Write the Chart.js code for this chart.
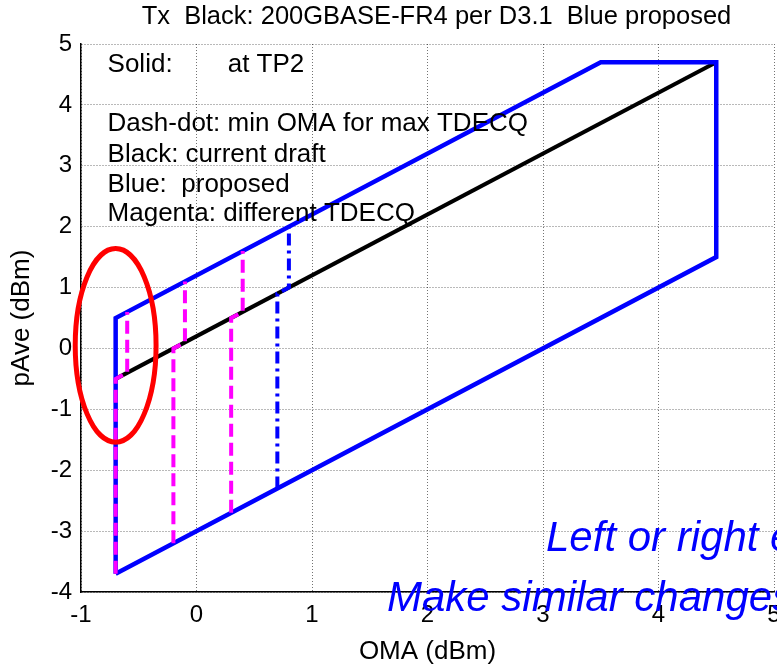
<!DOCTYPE html>
<html>
<head>
<meta charset="utf-8">
<script src="https://cdn.jsdelivr.net/npm/chart.js@4.4.0/dist/chart.umd.min.js"></script>
<style>
  html, body { margin: 0; padding: 0; background: #fff; }
</style>
</head>
<body>
<canvas id="c" width="777" height="667"></canvas>
<script>
// Blue: proposed limits (solid outline)
const blueX = [-0.7, -0.7, 3.5, 4.5, 4.5, -0.7];
const blueY = [-3.7, 0.5, 4.7, 4.7, 1.5, -3.7];
// Black: current draft
const blackX = [-0.7, 4.5];
const blackY = [-0.5, 4.7];
// Magenta: different TDECQ (dashed)
const mag1X = [-0.7, -0.7, -0.6, -0.6];
const mag1Y = [-3.7, -0.5, -0.4, 0.6];
const mag2X = [-0.2, -0.2, -0.1, -0.1];
const mag2Y = [-3.2, 0.0, 0.1, 1.1];
const mag3X = [0.3, 0.3, 0.4, 0.4];
const mag3Y = [-2.7, 0.5, 0.6, 1.6];
// Dash-dot: min OMA for max TDECQ
const ddX = [0.7, 0.7, 0.8, 0.8];
const ddY = [-2.3, 0.9, 1.0, 2.0];
// red ellipse: centre x, centre y, radius x, radius y
const ellipse = [-0.70, 0.05, 0.35, 1.59];

const titleText = 'Tx  Black: 200GBASE-FR4 per D3.1  Blue proposed';
const notes = [
  ['Solid:', -0.77, 4.66],
  ['at TP2', 0.27, 4.66],
  ['Dash-dot: min OMA for max TDECQ', -0.77, 3.69],
  ['Black: current draft', -0.77, 3.18],
  ['Blue:  proposed', -0.77, 2.69],
  ['Magenta: different TDECQ', -0.77, 2.21]
];

const FONT = "'Liberation Sans', Arial, sans-serif";

function pts(xs, ys) {
  return xs.map((x, i) => ({ x: x, y: ys[i] }));
}

function line(data, color, width, dash, order) {
  return {
    data: data, borderColor: color, borderWidth: width, borderDash: dash,
    showLine: true, pointRadius: 0, fill: false, tension: 0,
    borderJoinStyle: 'miter', order: order
  };
}

const overlay = {
  id: 'overlay',
  afterDatasetsDraw(chart) {
    const ctx = chart.ctx;
    const xs = chart.scales.x, ys = chart.scales.y;
    // red ellipse
    const cx = xs.getPixelForValue(ellipse[0]);
    const cy = ys.getPixelForValue(ellipse[1]);
    const rx = xs.getPixelForValue(ellipse[0] + ellipse[2]) - cx;
    const ry = cy - ys.getPixelForValue(ellipse[1] + ellipse[3]);
    ctx.save();
    ctx.strokeStyle = '#ff0000';
    ctx.lineWidth = 5;
    ctx.beginPath();
    ctx.ellipse(cx, cy, rx, ry, 0, 0, Math.PI * 2);
    ctx.stroke();
    // notes
    ctx.fillStyle = '#000';
    ctx.font = '26px ' + FONT;
    ctx.textBaseline = 'middle';
    ctx.textAlign = 'left';
    notes.forEach(n => {
      ctx.fillText(n[0], xs.getPixelForValue(n[1]), ys.getPixelForValue(n[2]));
    });
    ctx.restore();
  },
  afterDraw(chart) {
    const ctx = chart.ctx;
    const area = chart.chartArea;
    ctx.save();
    // title, centred over the plot box
    ctx.fillStyle = '#000';
    ctx.font = '25.5px ' + FONT;
    ctx.textAlign = 'center';
    ctx.textBaseline = 'middle';
    ctx.fillText(titleText, (area.left + area.right) / 2 + 9, 17);
    // pasted slide text
    ctx.fillStyle = '#0000ff';
    ctx.font = 'italic 42px ' + FONT;
    ctx.textBaseline = 'alphabetic';
    ctx.textAlign = 'left';
    ctx.fillText('Left or right e', 546, 551);
    ctx.fillText('Make similar changes', 387, 611);
    ctx.restore();
  }
};

const axisCommon = {
  type: 'linear',
  ticks: { stepSize: 1, color: '#000', font: { family: FONT, size: 24 }, padding: 9 },
  grid: { color: 'rgba(0,0,0,0.55)', lineWidth: 1, drawTicks: false },
  border: { display: true, color: '#000', width: 1.5, dash: [1, 2] }
};

new Chart(document.getElementById('c'), {
  type: 'scatter',
  data: {
    datasets: [
      line(pts(ddX, ddY), '#0000ff', 4, [12, 5, 3, 5], 1),
      line(pts(mag1X, mag1Y), '#ff00ff', 4, [13, 6], 2),
      line(pts(mag2X, mag2Y), '#ff00ff', 4, [13, 6], 2),
      line(pts(mag3X, mag3Y), '#ff00ff', 4, [13, 6], 2),
      line(pts(blueX, blueY), '#0000ff', 4.5, [], 3),
      line(pts(blackX, blackY), '#000000', 4, [], 4)
    ]
  },
  options: {
    responsive: false,
    animation: false,
    layout: { padding: { left: 0, right: 3, top: 44, bottom: 0 } },
    plugins: {
      legend: { display: false },
      tooltip: { enabled: false },
      title: { display: false }
    },
    scales: {
      x: Object.assign({}, axisCommon, {
        min: -1, max: 5,
        title: { display: true, text: 'OMA (dBm)', color: '#000', font: { family: FONT, size: 26 }, padding: { top: 0, bottom: 0 } },
        afterFit(s) { s.height = 75; s.paddingLeft = 0; s.paddingRight = 0; }
      }),
      y: Object.assign({}, axisCommon, {
        min: -4, max: 5,
        title: { display: true, text: 'pAve (dBm)', color: '#000', font: { family: FONT, size: 26 }, padding: { top: 6, bottom: 0 } },
        afterFit(s) { s.width = 81; s.paddingTop = 0; s.paddingBottom = 0; }
      })
    }
  },
  plugins: [overlay]
});
</script>
</body>
</html>
